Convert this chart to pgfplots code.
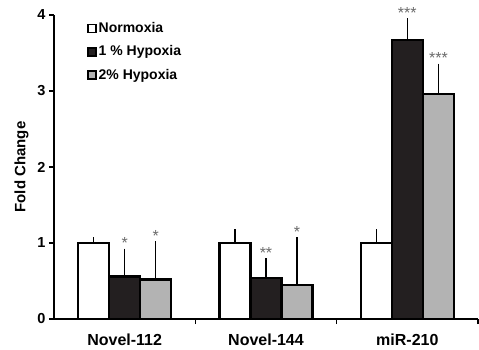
\documentclass[border=0pt]{standalone}
\usepackage{fontspec}
\setmainfont{Liberation Sans}
\usepackage{pgfplots}
\pgfplotsset{compat=1.18}
\definecolor{barblack}{HTML}{231F20}
\definecolor{bargray}{HTML}{B3B3B3}
\definecolor{stargray}{HTML}{6A6A6A}
\begin{document}
\begin{tikzpicture}
\begin{axis}[
  scale only axis, width=424pt, height=304pt,
  xmin=-0.5, xmax=2.5, ymin=0, ymax=4,
  axis x line*=bottom, axis y line*=left,
  axis line style={line width=2.6pt, -},
  ybar=0pt, bar width=0.22,
  tick align=outside,
  major tick length=5pt,
  xtick={0,1,2}, xticklabels={Novel-112,Novel-144,miR-210},
  major x tick style={draw=none},
  extra x ticks={0.5,1.5,2.5}, extra x tick labels={},
  extra x tick style={major x tick style={draw=black, line width=1.5pt}},
  x tick label style={font=\fontsize{16}{18}\selectfont\bfseries, yshift=-6pt},
  ytick={0,1,2,3,4},
  yticklabels={\textbf{0},\textbf{1},\textbf{2},\textbf{3},\textbf{4}},
  yticklabel style={font=\fontsize{14.5}{16}\selectfont\bfseries, text=black},
  y tick style={line width=1.5pt, black},
  ylabel={Fold Change},
  ylabel style={font=\fontsize{15}{17}\selectfont\bfseries},
  ylabel shift=2pt,
  legend style={font=\fontsize{14}{16}\selectfont\bfseries, draw=none, fill=none,
    at={(0.077,0.982)}, anchor=north west, row sep=7.5pt, cells={anchor=west},
    inner sep=0pt},
  legend image code/.code={\draw[#1, line width=1.8pt] (0.5pt,-4pt) rectangle (8.5pt,4pt);},
  clip=false,
]
\addplot[fill=white, draw=black, line width=2.3pt,
  error bars/y dir=plus, error bars/y explicit,
  error bars/error mark=none,
  error bars/error bar style={line width=1.3pt, black}]
  coordinates {(0,1.00) +- (0,0.075) (1,1.00) +- (0,0.18) (2,1.00) +- (0,0.18)};
\addplot[fill=barblack, draw=black, line width=2.3pt,
  error bars/y dir=plus, error bars/y explicit,
  error bars/error mark=none,
  error bars/error bar style={line width=1.3pt, black}]
  coordinates {(0,0.56) +- (0,0.365) (1,0.535) +- (0,0.265) (2,3.667) +- (0,0.293)};
\addplot[fill=bargray, draw=black, line width=2.3pt,
  error bars/y dir=plus, error bars/y explicit,
  error bars/error mark=none,
  error bars/error bar style={line width=1.3pt, black}]
  coordinates {(0,0.52) +- (0,0.50) (1,0.447) +- (0,0.628) (2,2.96) +- (0,0.40)};
\legend{Normoxia, 1 \% Hypoxia, 2\% Hypoxia}
\begin{scope}[every node/.style={text=stargray, font=\fontsize{16}{18}\selectfont, anchor=base, inner sep=0pt}]
\node at (axis cs:0,0.925) {*};
\node at (axis cs:0.22,1.02) {*};
\node at (axis cs:1,0.80) {**};
\node at (axis cs:1.22,1.075) {*};
\node at (axis cs:2,3.96) {***};
\node at (axis cs:2.22,3.36) {***};
\end{scope}
\end{axis}
\pgfresetboundingbox
\path (current axis.south west) ++(-54pt,-30pt) rectangle ++(479pt,349pt);
\end{tikzpicture}
\end{document}
